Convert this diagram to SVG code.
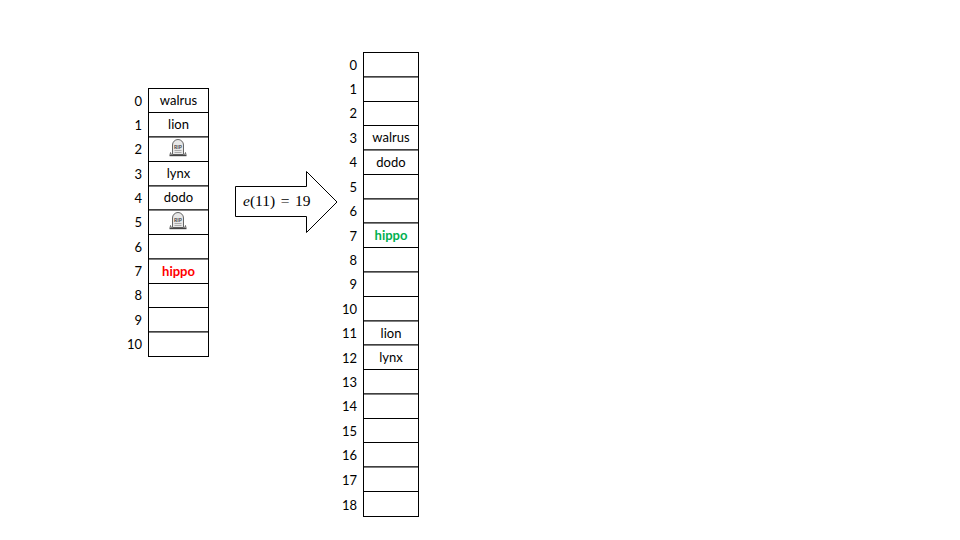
<svg xmlns="http://www.w3.org/2000/svg" width="960" height="540" viewBox="0 0 960 540">
<style>
.c{fill:#fff;stroke:#000;stroke-width:1}
text{font-family:"Lato","Open Sans","Liberation Sans",sans-serif;font-size:13px;fill:#000;text-anchor:middle}
.i{text-anchor:end}
.b{font-weight:700}
.m{font-family:"Liberation Serif","DejaVu Serif",serif;font-size:15.500px;text-anchor:start}
.rip{font-size:5px;font-weight:700;fill:#444}
</style>
<defs>
<g id="grave">
<path d="M-5.500 6.500V-3a5.500 5.500 0 0 1 11 0V6.500z" fill="#e8e8e8" stroke="#666" stroke-width="1"/>
<path d="M-3.500 2.500H3.500M-3.500 4.500H3.500" stroke="#999" stroke-width="0.800"/>
<path d="M-8.500 7.500H8.500" stroke="#444" stroke-width="1.400"/>
<path d="M-8 7L-7.500 4.500L-6.500 7M8 7L7.500 4.500L6.500 7" fill="none" stroke="#555" stroke-width="0.800"/>
<text class="rip" x="0" y="0.500">RIP</text>
</g>
</defs>
<rect width="960" height="540" fill="#fff"/>
<g id="old-table">
<rect class="c" x="148.500" y="88.500" width="60" height="24"/>
<rect class="c" x="148.500" y="112.500" width="60" height="24.500"/>
<rect class="c" x="148.500" y="137" width="60" height="24.500"/>
<rect class="c" x="148.500" y="161.500" width="60" height="24.500"/>
<rect class="c" x="148.500" y="186" width="60" height="24"/>
<rect class="c" x="148.500" y="210" width="60" height="24.500"/>
<rect class="c" x="148.500" y="234.500" width="60" height="24.500"/>
<rect class="c" x="148.500" y="259" width="60" height="24.500"/>
<rect class="c" x="148.500" y="283.500" width="60" height="24"/>
<rect class="c" x="148.500" y="307.500" width="60" height="24.500"/>
<rect class="c" x="148.500" y="332" width="60" height="24.500"/>
<text x="178.500" y="105">walrus</text>
<text x="178.500" y="129">lion</text>
<use href="#grave" x="178" y="148"/>
<text x="178.500" y="178">lynx</text>
<text x="178.500" y="202">dodo</text>
<use href="#grave" x="178" y="221"/>
<text class="b" x="178.500" y="276" style="fill:#f00">hippo</text>
<text class="i" x="142" y="105.500">0</text>
<text class="i" x="142" y="129.500">1</text>
<text class="i" x="142" y="153.500">2</text>
<text class="i" x="142" y="178.500">3</text>
<text class="i" x="142" y="202.500">4</text>
<text class="i" x="142" y="226.500">5</text>
<text class="i" x="142" y="251.500">6</text>
<text class="i" x="142" y="275.500">7</text>
<text class="i" x="142" y="299.500">8</text>
<text class="i" x="142" y="324.500">9</text>
<text class="i" x="142" y="348.500">10</text>
</g>
<g id="resize-arrow">
<path d="M235.500 186.500H306.500V171.500L337 202L306.500 232.500V216.500H235.500z" fill="#fff" stroke="#000" stroke-width="1"/>
<text class="m" x="243" y="206"><tspan font-style="italic">e</tspan>(11)<tspan dx="5.500">=</tspan><tspan dx="5.500">19</tspan></text>
</g>
<g id="new-table">
<rect class="c" x="363.500" y="52.500" width="55" height="24.500"/>
<rect class="c" x="363.500" y="77" width="55" height="24.500"/>
<rect class="c" x="363.500" y="101.500" width="55" height="24"/>
<rect class="c" x="363.500" y="125.500" width="55" height="24.500"/>
<rect class="c" x="363.500" y="150" width="55" height="24.500"/>
<rect class="c" x="363.500" y="174.500" width="55" height="24.500"/>
<rect class="c" x="363.500" y="199" width="55" height="24"/>
<rect class="c" x="363.500" y="223" width="55" height="24.500"/>
<rect class="c" x="363.500" y="247.500" width="55" height="24.500"/>
<rect class="c" x="363.500" y="272" width="55" height="24.500"/>
<rect class="c" x="363.500" y="296.500" width="55" height="24.500"/>
<rect class="c" x="363.500" y="321" width="55" height="24"/>
<rect class="c" x="363.500" y="345" width="55" height="24.500"/>
<rect class="c" x="363.500" y="369.500" width="55" height="24.500"/>
<rect class="c" x="363.500" y="394" width="55" height="24.500"/>
<rect class="c" x="363.500" y="418.500" width="55" height="24"/>
<rect class="c" x="363.500" y="442.500" width="55" height="24.500"/>
<rect class="c" x="363.500" y="467" width="55" height="24.500"/>
<rect class="c" x="363.500" y="491.500" width="55" height="25"/>
<text x="391" y="142">walrus</text>
<text x="391" y="167">dodo</text>
<text class="b" x="391" y="240" style="fill:#00b050">hippo</text>
<text x="391" y="338">lion</text>
<text x="391" y="362">lynx</text>
<text class="i" x="357" y="69.500">0</text>
<text class="i" x="357" y="93.500">1</text>
<text class="i" x="357" y="117.500">2</text>
<text class="i" x="357" y="142.500">3</text>
<text class="i" x="357" y="166.500">4</text>
<text class="i" x="357" y="191.500">5</text>
<text class="i" x="357" y="215.500">6</text>
<text class="i" x="357" y="240.500">7</text>
<text class="i" x="357" y="264.500">8</text>
<text class="i" x="357" y="288.500">9</text>
<text class="i" x="357" y="313.500">10</text>
<text class="i" x="357" y="337.500">11</text>
<text class="i" x="357" y="362.500">12</text>
<text class="i" x="357" y="386.500">13</text>
<text class="i" x="357" y="410.500">14</text>
<text class="i" x="357" y="435.500">15</text>
<text class="i" x="357" y="459.500">16</text>
<text class="i" x="357" y="484.500">17</text>
<text class="i" x="357" y="509.500">18</text>
</g>
</svg>
